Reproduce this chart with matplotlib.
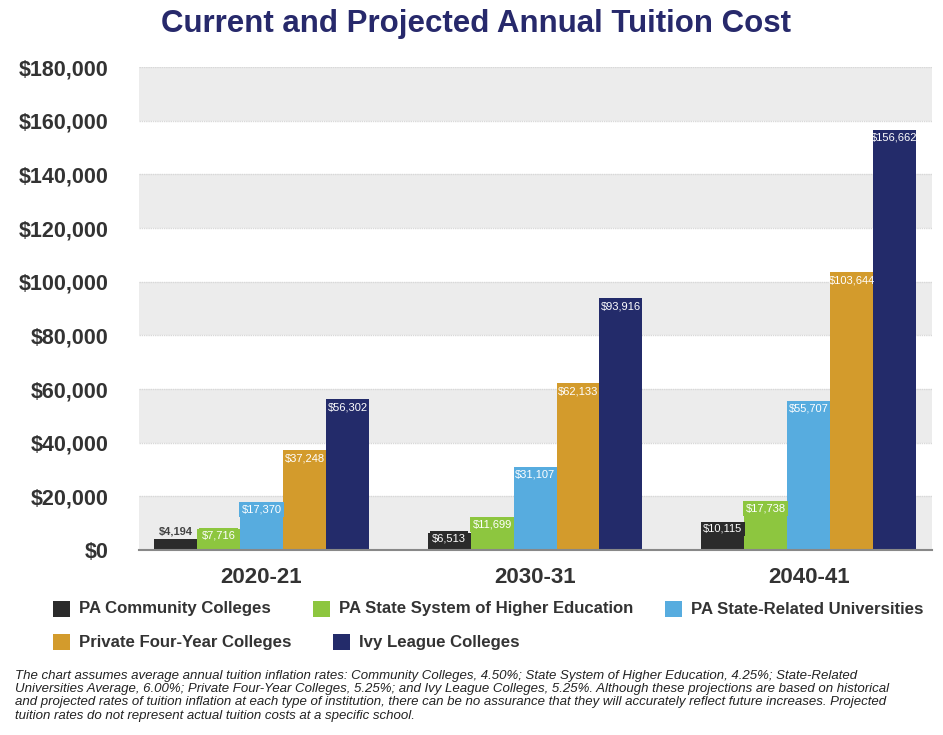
import numpy as np
import matplotlib.pyplot as plt
from matplotlib.patches import Rectangle

years = ['2020-21', '2030-31', '2040-41']
series = ['PA Community Colleges', 'PA State System of Higher Education',
          'PA State-Related Universities', 'Private Four-Year Colleges',
          'Ivy League Colleges']
community = [4194, 6513, 10115]
state_system = [7716, 11699, 17738]
state_related = [17370, 31107, 55707]
private = [37248, 62133, 103644]
ivy = [56302, 93916, 156662]
values = [community, state_system, state_related, private, ivy]
colors = ['#2b2b2b', '#8dc63f', '#57acdf', '#d39b2c', '#232b6a']

yticks = np.arange(0, 180001, 20000)

footnote = ("The chart assumes average annual tuition inflation rates: Community Colleges, 4.50%; State System of Higher Education, 4.25%; State-Related\n"
            "Universities Average, 6.00%; Private Four-Year Colleges, 5.25%; and Ivy League Colleges, 5.25%. Although these projections are based on historical\n"
            "and projected rates of tuition inflation at each type of institution, there can be no assurance that they will accurately reflect future increases. Projected\n"
            "tuition rates do not represent actual tuition costs at a specific school.")

plt.rcParams['font.family'] = ['Liberation Sans', 'DejaVu Sans']

fig = plt.figure(figsize=(9.43, 7.35), dpi=100)
ax = fig.add_axes([0.1474, 0.2517, 0.8406, 0.6571])

# alternating bands
for i in range(0, len(yticks) - 1, 2):
    ax.axhspan(yticks[i], yticks[i + 1], color='#ececec', zorder=0, lw=0)
for t in yticks[1:]:
    ax.axhline(t, color='#d8d8d8', lw=1.0, ls=(0, (1, 0.6)), zorder=0.5)

x = np.arange(len(years))
w = 0.157
for j, (vals, c) in enumerate(zip(values, colors)):
    pos = x + (j - 2) * w
    ax.bar(pos, vals, width=w, color=c, zorder=2)
    for px, v in zip(pos, vals):
        txt = '${:,}'.format(v)
        if v < 5000:
            ax.text(px, v + 700, txt, ha='center', va='bottom', fontsize=8,
                    color='#444444', fontweight='bold', zorder=3)
        elif v < 20000:
            ax.text(px, max(v, 5500) - 400, txt, ha='center', va='top', fontsize=8,
                    color='white', zorder=3,
                    bbox=dict(boxstyle='square,pad=0.2', fc=c, ec='none'))
        else:
            ax.text(px, v - 1200, txt, ha='center', va='top', fontsize=8,
                    color='white', zorder=3)

ax.set_xlim(-0.448, 2.45)
ax.set_ylim(0, 180000)
ax.set_yticks(yticks)
ax.set_yticklabels(['${:,}'.format(t) for t in yticks], fontsize=15.5,
                   fontweight='bold', color='#333333')
ax.set_xticks(x)
ax.set_xticklabels(years, fontsize=16, fontweight='bold', color='#333333')
ax.tick_params(axis='both', length=0)
ax.tick_params(axis='y', pad=22)
ax.tick_params(axis='x', pad=12)
for s in ['top', 'right', 'left']:
    ax.spines[s].set_visible(False)
ax.spines['bottom'].set_color('#888888')
ax.spines['bottom'].set_linewidth(1.5)
ax.spines['bottom'].set_zorder(4)

fig.text(0.505, 0.968, 'Current and Projected Annual Tuition Cost', ha='center',
         va='center', fontsize=22.5, fontweight='bold', color='#27296b')

# legend entries laid out in two rows
W, H = 943.0, 735.0
legend_xy = [(53, 609), (313, 609), (665, 609), (53, 642), (333, 642)]
for (lx, ly), name, c in zip(legend_xy, series, colors):
    fig.patches.append(Rectangle((lx / W, 1 - (ly + 8) / H), 17 / W, 16 / H,
                                 transform=fig.transFigure, fc=c, ec='none'))
    fig.text((lx + 26) / W, 1 - ly / H, name, ha='left', va='center',
             fontsize=12.1, fontweight='bold', color='#333333')

fig.text(0.016, 0.088, footnote, ha='left', va='top', fontsize=9.5,
         style='italic', color='#222222', linespacing=1.12)

fig.savefig('out.png', dpi=100)
